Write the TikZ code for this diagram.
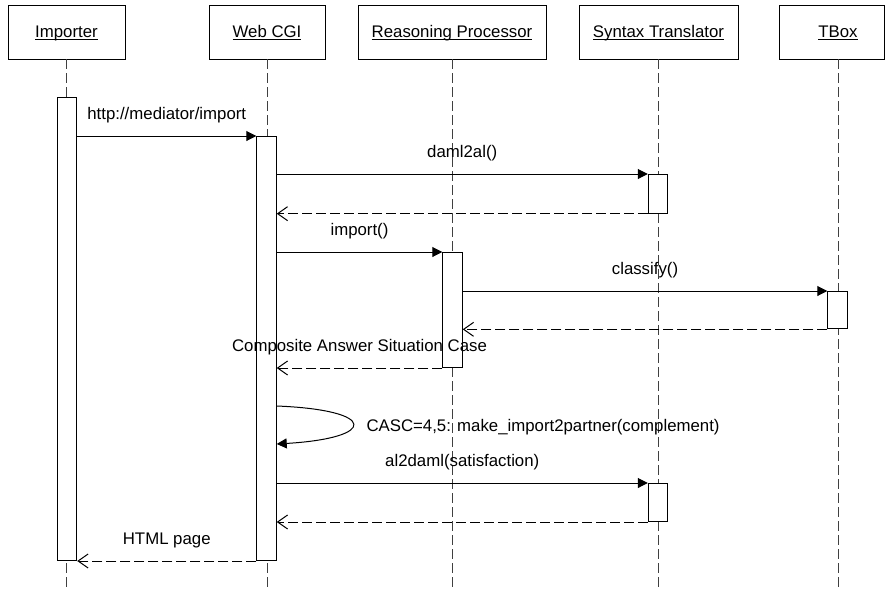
\documentclass[tikz,border=0pt]{standalone}
\usepackage{fontspec}
\setmainfont{Liberation Sans}
\usetikzlibrary{arrows.meta}
\newcommand{\uln}[1]{\setbox0\hbox{#1}\rlap{\rule[-1.6pt]{\wd0}{0.7pt}}\box0}

\begin{document}
\begin{tikzpicture}[x=0.75pt, y=-0.75pt, line width=0.75pt,
    every node/.style={font=\fontsize{12.6pt}{15pt}\selectfont},
    head/.style={draw, minimum height=40.5pt, inner sep=0pt, text height=10pt, text depth=1.4pt},
    life/.style={black!75, dash pattern=on 7.5pt off 3pt},
    act/.style={draw, fill=white, anchor=north, minimum width=14.6pt, inner sep=0pt},
    call/.style={-{Triangle[length=7.5pt, width=7.5pt]}},
    reply/.style={dash pattern=on 7.5pt off 3pt, -{Straight Barb[length=7.5pt, width=10.5pt]}},
    lbl/.style={midway, anchor=base, yshift=12.75pt, inner sep=0pt}]

    \useasboundingbox (0,0) rectangle (885,589);

    % Objects along the top
    \node[head, minimum width=87.75pt] (imp) at (66.5,32) {\uln{Importer}};
    \node[head, minimum width=87pt] (cgi) at (267,32) {\uln{Web CGI}};
    \node[head, minimum width=141pt] (rp) at (452,32) {\uln{Reasoning Processor}};
    \node[head, minimum width=119.25pt] (st) at (658.5,32) {\uln{Syntax Translator}};
    \node[head, minimum width=78.75pt] (tb) at (831.5,32) {\hspace*{9.75pt}\uln{TBox}};

    % Lifelines (dashed, down to the bottom edge)
    \coordinate (impTop) at (66.5,59);   \coordinate (impEnd) at (66.5,589);
    \coordinate (cgiTop) at (267,59);    \coordinate (cgiEnd) at (267,589);
    \coordinate (rpTop) at (452,59);     \coordinate (rpEnd) at (452,589);
    \coordinate (stTop) at (658,59);     \coordinate (stEnd) at (658,589);
    \coordinate (tbTop) at (838,59);     \coordinate (tbEnd) at (838,589);
    \draw[life] (impTop) -- (impEnd);
    \draw[life] (cgiTop) -- (cgiEnd);
    \draw[life] (rpTop) -- (rpEnd);
    \draw[life] (stTop) -- (stEnd);
    \draw[life] (tbTop) -- (tbEnd);

    % Activation bars
    \node[act, minimum height=347.25pt] (impA) at (67,97) {};
    \node[act, minimum height=318pt] (cgiA) at (266.5,136) {};
    \node[act, minimum height=29pt] (stA) at (658,174) {};
    \node[act, minimum height=86.25pt] (rpA) at (452.5,252) {};
    \node[act, minimum height=28pt] (tbA) at (837.5,291) {};
    \node[act, minimum height=28.5pt] (stB) at (658,483) {};

    % Messages
    \draw[call] (impA.east |- cgiA.north) -- (cgiA.north west) node[lbl] {http://mediator/import};
    \draw[call] (cgiA.east |- stA.north) -- (stA.north west) node[lbl] {daml2al()};
    \draw[reply] (stA.south west) -- (cgiA.east |- stA.south);
    \draw[call] (cgiA.east |- rpA.north) -- (rpA.north west) node[lbl] {import()};
    \draw[call] (rpA.east |- tbA.north) -- (tbA.north west) node[lbl] {classify()};
    \draw[reply] (tbA.south west) -- (rpA.east |- tbA.south);
    \draw[reply] (rpA.south west) -- (cgiA.east |- rpA.south) node[lbl] {Composite Answer Situation Case};

    % Self call on Web CGI
    \draw[call] (cgiA.east |- 0,406) .. controls (378,410) and (378,438) .. (cgiA.east |- 0,444);
    \node[anchor=base west, inner sep=0pt] (casc) at (366,431) {CASC=4,5: make\_import2partner(complement)};

    \draw[call] (cgiA.east |- stB.north) -- (stB.north west) node[lbl] {al2daml(satisfaction)};
    \draw[reply] (stB.south west) -- (cgiA.east |- stB.south);
    \draw[reply] (cgiA.south west) -- (impA.east |- cgiA.south) node[lbl] {HTML page};

\end{tikzpicture}
\end{document}
